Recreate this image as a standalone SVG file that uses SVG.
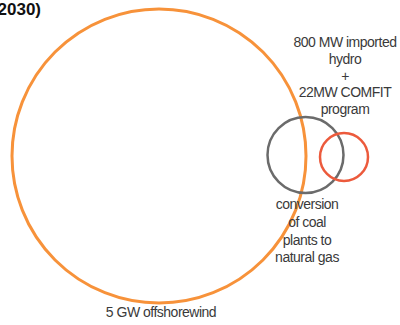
<svg xmlns="http://www.w3.org/2000/svg" width="400" height="325" viewBox="0 0 400 325">
<style>
.t{font-family:"Liberation Sans",Arial,sans-serif;font-size:14px;fill:#3a3a3a;text-anchor:middle;letter-spacing:-0.5px}
.c{fill:none}
</style>
<rect width="400" height="325" fill="#fff"/>
<text x="41" y="15" font-family="Liberation Sans,Arial,sans-serif" font-weight="bold" font-size="17" fill="#111" text-anchor="end">2030)</text>
<g id="connectors"></g>
<g id="offshore">
<circle class="c" cx="159" cy="156" r="147" stroke="#f7923a" stroke-width="3"/>
<text class="t" x="161" y="317">5 GW offshorewind</text>
</g>
<g id="coal">
<circle class="c" cx="305.5" cy="155" r="38" stroke="#6b6b6b" stroke-width="2.5"/>
<text class="t" x="307" y="209">conversion</text>
<text class="t" x="307" y="227">of coal</text>
<text class="t" x="307" y="245">plants to</text>
<text class="t" x="307" y="262">natural gas</text>
</g>
<g id="hydro">
<circle class="c" cx="344" cy="157" r="24" stroke="#ec5a3c" stroke-width="2.5"/>
<text class="t" x="345" y="47">800 MW imported</text>
<text class="t" x="345" y="64">hydro</text>
<text class="t" x="345" y="81">+</text>
<text class="t" x="345" y="97">22MW COMFIT</text>
<text class="t" x="345" y="114">program</text>
</g>
</svg>
